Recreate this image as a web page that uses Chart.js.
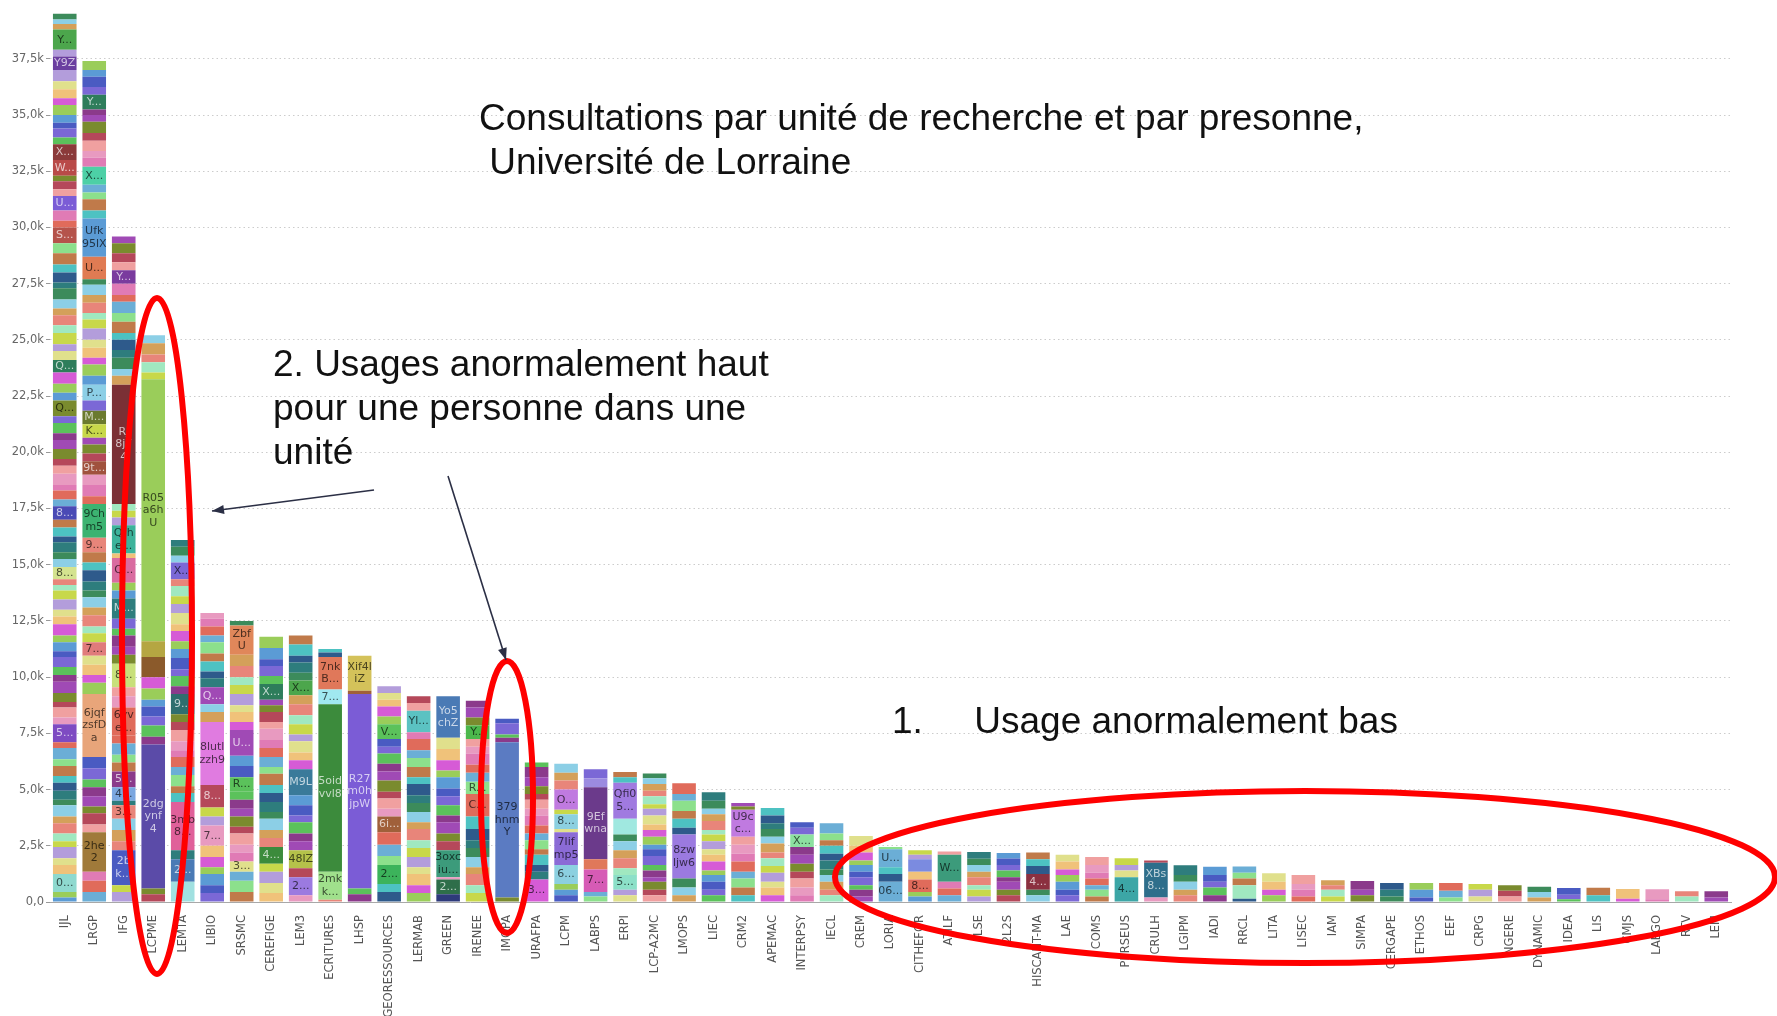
<!DOCTYPE html>
<html><head><meta charset="utf-8">
<script src="https://cdn.jsdelivr.net/npm/chart.js@4.4.0/dist/chart.umd.min.js"></script>
<style>
html,body{margin:0;padding:0;background:#fff;width:1777px;height:1016px;overflow:hidden;}
#wrap{position:relative;width:1777px;height:1016px;}
canvas{position:absolute;left:0;top:0;}
.note{position:absolute;font-family:"Liberation Sans",Arial,sans-serif;font-size:37px;line-height:44px;color:#111;white-space:pre;}
</style></head><body>
<div id="wrap"><canvas id="c" width="1777" height="1016"></canvas>
<div class="note" style="left:479px;top:96px">Consultations par unité de recherche et par presonne,
 Université de Lorraine</div>
<div class="note" style="left:273px;top:342px">2. Usages anormalement haut
pour une personne dans une
unité</div>
<div class="note" style="left:892px;top:699px">1.     Usage anormalement bas</div>
</div>
<script>
// ---- DATA ----
const units = ["IJL","LRGP","IFG","LCPME","LEMTA","LIBIO","SRSMC","CEREFIGE","LEM3","ECRITURES","LHSP","GEORESSOURCES","LERMAB","GREEN","IRENEE","IMOPA","URAFPA","LCPM","LABPS","ERPI","LCP-A2MC","LMOPS","LIEC","CRM2","APEMAC","INTERPSY","IECL","CREM","LORIA","CITHEFOR","ATILF","LSE","2L2S","HISCANT-MA","LAE","COMS","PERSEUS","CRULH","LGIPM","IADI","RRCL","LITA","LISEC","IAM","SIMPA","CERGAPE","ETHOS","EEF","CRPG","NGERE","DYNAMIC","IDEA","LIS","CMJS","LAEGO","RTV","LEM"];

// consultations per person (thousands), bottom to top; [value, "label"] = labelled person
const segValues = [
 [0.2,0.25,[0.8,"0..."],0.4,0.3,0.5,0.25,0.35,0.45,0.3,0.5,0.25,0.4,0.35,0.3,0.45,0.3,0.5,0.25,[0.8,"5..."],0.3,0.45,0.25,0.4,0.5,0.3,0.35,0.45,0.25,0.4,0.3,0.5,0.35,0.3,0.45,0.4,0.25,0.25,[0.55,"8..."],0.35,0.3,0.45,0.25,0.4,0.35,[0.6,"8..."],0.3,0.4,0.25,0.5,0.35,0.3,0.45,0.4,0.3,0.45,0.3,[0.7,"Q..."],0.35,0.4,0.5,[0.55,"Q..."],0.4,0.3,0.5,0.35,0.45,0.3,0.4,0.5,0.25,0.45,0.35,0.5,0.45,[0.7,"S..."],0.3,0.45,[0.65,"U..."],0.3,0.35,0.25,[0.7,"W..."],[0.7,"X..."],0.3,0.4,0.25,0.35,0.45,0.3,0.4,0.35,0.5,[0.6,"Y9Z"],[0.3,""],[0.9,"Y..."],0.25,0.2,0.25],
 [0.45,0.5,0.4,[1.75,"2he\n2"],0.35,0.5,0.3,0.45,0.4,0.35,0.5,0.5,[2.8,"6jqf\nzsfD\na"],0.5,0.35,0.45,0.4,[0.6,"7..."],0.4,0.3,0.5,0.35,0.45,0.3,0.4,0.5,0.35,0.45,[0.65,"9..."],[1.5,"9Ch\nm5"],0.35,0.5,0.45,[0.6,"9t..."],0.35,0.4,0.3,[0.6,"K..."],[0.6,"M..."],0.45,[0.7,"P..."],0.4,0.5,0.3,0.45,0.35,0.5,0.4,0.3,0.45,0.35,0.45,0.25,[1.0,"U..."],[1.7,"Ufk\n95lX"],0.35,0.5,0.3,0.35,[0.8,"X..."],0.4,0.3,0.45,0.35,0.5,0.3,0.25,[0.65,"Y..."],0.35,0.45,0.3,0.4],
 [0.45,0.3,[1.55,"2b\nk..."],0.4,0.5,0.5,[0.6,"3..."],0.2,[0.6,"4..."],[0.7,"5..."],0.4,0.35,0.5,0.35,[1.25,"6vv\ne..."],0.5,0.4,[1.05,"8..."],0.4,0.35,0.5,0.3,0.45,[0.9,"M..."],0.35,0.35,[1.1,"Q..."],0.2,[1.25,"Q(h\ne..."],0.35,0.3,0.3,[5.3,"Rj\n8j7\n4"],0.4,0.3,0.5,0.35,0.45,0.3,0.5,0.4,0.5,0.3,0.5,[0.6,"Y..."],0.35,0.4,0.45,0.3],
 [0.35,0.25,[6.4,"2dg\nynf\n4"],0.35,0.5,0.4,0.45,0.3,0.5,0.5,[0.9,""],[0.7,""],[11.65,"R05\na6h\nU"],0.3,0.45,0.35,0.5,0.35],
 [[0.9,""],[1.0,"2..."],0.4,[2.15,"3mb\n8..."],0.4,0.3,0.5,0.35,0.45,0.3,0.4,0.5,0.35,0.35,[0.9,"9..."],0.35,0.45,0.3,0.5,0.4,0.35,0.45,0.3,0.5,0.4,0.35,0.45,0.3,[0.75,"X..."],0.3,0.4,0.3],
 [0.4,0.35,0.5,0.3,0.45,0.5,[0.9,"7..."],0.4,0.4,[1.0,"8..."],[2.8,"8lutl\nzzh9"],0.45,0.35,[0.75,"Q..."],0.4,0.3,0.45,0.35,0.5,0.3,0.4,0.35,0.25],
 [0.45,0.5,0.4,[0.45,"3..."],0.4,0.35,0.5,0.3,0.45,0.35,0.4,0.35,[0.65,"R..."],0.5,0.45,[1.15,"U..."],0.35,0.45,0.3,0.5,0.4,0.35,0.5,0.5,[1.3,"Zbf\nU"],0.2],
 [0.4,0.45,0.5,0.35,[0.75,"4..."],0.4,0.35,0.5,0.3,0.45,0.4,0.35,0.5,0.3,0.45,0.4,0.35,0.5,0.3,0.45,0.3,0.25,[0.7,"X..."],0.35,0.45,0.3,0.5,0.5],
 [0.3,[0.8,"2..."],0.4,[0.8,"48lZ"],0.4,0.35,0.5,0.3,0.45,0.45,[1.15,"M9L"],0.4,0.35,0.5,0.3,0.45,0.4,0.5,0.4,[0.65,"X..."],0.35,0.45,0.3,0.5,0.4],
 [0.1,[1.25,"2mk\nk..."],[7.45,"5oid\nvvl8"],[0.65,"7..."],[1.45,"7nk\nB..."],0.2,0.15],
 [0.35,0.25,[8.65,"R27\nm0h\njpW"],[0.15,""],[1.55,"Xif4l\niZ"]],
 [0.45,0.35,[0.85,"2..."],0.4,0.5,0.55,[0.7,"6i..."],0.35,0.45,0.3,0.5,0.4,0.35,0.45,0.3,0.35,[0.65,"V..."],0.35,0.45,0.3,0.3,0.3],
 [0.4,0.35,0.5,0.3,0.45,0.4,0.35,0.5,0.3,0.45,0.4,0.35,0.5,0.3,0.45,0.4,0.35,0.5,0.3,[0.95,"Yl..."],0.35,0.3],
 [[0.35,""],[0.65,"2..."],0.1,[1.2,"3oxc\niu..."],0.4,0.35,0.5,0.3,0.45,0.4,0.35,0.5,0.3,0.45,0.5,0.5,[1.85,"Yo5\nchZ"]],
 [0.4,0.35,0.5,0.3,0.45,0.4,0.35,0.5,0.55,[1.0,"C..."],[0.55,"R..."],0.4,0.35,0.5,0.3,0.35,[0.6,"Y..."],0.35,0.45,0.3],
 [0.2,[6.9,"379\nhnm\nY"],0.2,0.15,0.5,0.2],
 [[1.0,"3..."],0.35,0.3,0.45,0.25,0.4,0.3,0.35,0.45,0.3,0.4,0.25,0.35,0.4,0.45,0.2],
 [0.3,0.25,0.25,[0.85,"6..."],[1.45,"7lif\nmp5"],0.15,[0.65,"8..."],0.2,[0.9,"O..."],0.4,0.35,0.4],
 [0.25,0.2,[1.0,"7..."],[0.45,""],[3.2,"9Ef\nwna"],[0.4,""],[0.4,""]],
 [0.3,0.25,[0.65,"5..."],0.3,0.45,0.35,0.4,0.3,[0.7,""],[1.6,"Qfi0\n5..."],0.25,0.23],
 [0.3,0.25,0.35,0.2,0.3,0.25,0.4,0.3,0.2,0.35,0.3,0.25,0.4,0.3,0.2,0.35,0.25,0.3,0.25,0.22],
 [0.3,0.35,0.4,[1.95,"8zw\nljw6"],0.3,0.4,0.35,0.45,0.3,0.48],
 [0.3,0.25,0.35,0.3,0.2,0.4,0.3,0.25,0.35,0.3,0.2,0.4,0.3,0.25,0.35,0.38],
 [0.3,0.35,0.4,0.3,0.45,0.35,0.4,0.35,[1.2,"U9c\nc..."],0.15,0.15],
 [0.3,0.35,0.25,0.4,0.3,0.35,0.25,0.4,0.3,0.35,0.25,0.35,0.33],
 [0.3,0.35,0.4,0.3,0.35,0.4,0.35,[0.55,"X..."],0.3,0.25],
 [0.3,0.25,0.35,0.3,0.25,0.4,0.3,0.35,0.25,0.3,0.45],
 [0.25,0.3,0.2,0.35,0.25,0.3,0.2,0.35,0.3,0.43],
 [[0.9,"06..."],0.35,0.3,[0.8,"U..."],0.1],
 [0.25,0.2,[0.55,"8..."],0.35,[0.55,""],0.2,0.2],
 [0.3,0.3,0.3,[1.2,"W..."],0.15],
 [0.25,0.3,0.2,0.35,0.25,0.3,0.27,0.3],
 [0.3,0.25,0.35,0.2,0.3,0.25,0.28,0.25],
 [0.3,0.25,[0.7,"4..."],0.35,0.3,0.3],
 [0.3,0.25,0.35,0.3,0.25,0.35,0.3],
 [0.25,0.3,0.2,0.3,0.25,0.35,0.35],
 [[1.1,"4..."],0.3,0.25,0.3],
 [0.2,[1.55,"XBs\n8..."],0.1],
 [0.3,0.25,0.35,0.3,0.43],
 [0.3,0.35,0.25,0.3,0.37],
 [0.15,[0.6,""],0.3,0.25,0.28],
 [0.3,0.25,0.35,0.38],
 [0.25,0.3,0.25,0.4],
 [0.25,0.3,0.2,0.22],
 [0.3,0.25,0.38],
 [0.25,0.3,0.3],
 [0.2,0.35,0.3],
 [0.2,0.3,0.34],
 [0.25,0.3,0.25],
 [0.25,0.25,0.25],
 [0.2,0.25,0.23],
 [0.12,0.2,0.3],
 [0.3,0.33],
 [0.15,0.43],
 [0.12,0.45],
 [0.25,0.23],
 [0.2,0.28]
];

const yTicks = [0,2.5,5,7.5,10,12.5,15,17.5,20,22.5,25,27.5,30,32.5,35,37.5];

// ---- STYLES ----
const segColors = {
 "IJL":["#8ED9CF","#7E4BC2","#D4E38F","#4A4AB5","#7A8B2E","#2E7D5B","#B5534B","#7B5CD6","#B94A48","#8B3A3A","#6B3FA0","#B39DDB","#4CA64C"],
 "LRGP":["#A07A3A","#E8A57A","#E07B7B","#E8857A","#3CB371","#A0523D","#C8D84A","#6B7A2E","#8CCFE6","#E07B53","#5B9BD5","#4DD0A6","#2E7D5B"],
 "IFG":["#4A5BC2","#E8857A","#7BA7E0","#8B3A8B","#E06B5B","#C8E07A","#2E7D7D","#D96BA0","#3CB39B","#7B3035","#7A3B9E"],
 "LCPME":["#5B4BA8","#8B5A2B","#B5A642","#9ACD5A"],
 "LEMTA":["#A0E0E0","#4A7AB5","#E0609A","#2E6E6E","#7B68D6"],
 "LIBIO":["#E89AC0","#B5485A","#E07BE0","#A04AB5"],
 "SRSMC":["#E0E08C","#5BC25B","#A04AB5","#E0875A"],
 "CEREFIGE":["#3C8B3C","#2E7D5B"],
 "LEM3":["#9B7AE0","#B5C24A","#3A7A9A","#4CA64C"],
 "ECRITURES":["#A0E08C","#3C8B3C","#A0E8F0","#E0785A"],
 "LHSP":["#7B5CD6","#A0603A","#D4C25A"],
 "GEORESSOURCES":["#3CB35B","#A0603A","#5BC25B"],
 "LERMAB":["#5BC2C2"],
 "GREEN":["#2E3A7B","#2E6E4A","#3C9B7B","#4A7AB5"],
 "IRENEE":["#E06B5B","#8CE08C","#4CB84C"],
 "IMOPA":["#5B7BC2"],
 "URAFPA":["#D65BD6"],
 "LCPM":["#8CD0E0","#8B6BD6","#8CD0E0","#C07AE0"],
 "LABPS":["#D65BB5","#E0785A","#6B3A8B","#9B8BE0","#7B68D6"],
 "ERPI":["#8CE0C8","#A0E8E0","#A07AE0"],
 "LMOPS":["#9B7AE0"],
 "CRM2":["#C07AE0"],
 "INTERPSY":["#8CE0A0"],
 "LORIA":["#6BAED6","#6BAED6"],
 "CITHEFOR":["#E06B5B","#7B8BE0"],
 "ATILF":["#3C9B7B"],
 "HISCANT-MA":["#8B3040"],
 "PERSEUS":["#3CA6A6"],
 "CRULH":["#2E6E8B"],
 "RRCL":["#A0E8C0"]
};
const palette = ["#5B9BD5","#E8857A","#8CE08C","#A04AB5","#F0C27A","#3C8B5B","#E07BB5","#7B68D6","#C8D84A","#4DC2C2","#B5485A","#9ACD5A","#D4A05A","#6BAED6","#8B3A8B","#E0E08C","#2E7D7D","#E89AC0","#4A5BC2","#A0E8C0","#C07A4A","#7A8B2E","#D65BD6","#8CCFE6","#E06B5B","#5BC25B","#B39DDB","#2E5A8B","#F0A0A0"];

// color matrix
const colorMat = segValues.map((segs,i)=>{
  let k=0; const u=units[i];
  return segs.map((s,j)=> Array.isArray(s) ? segColors[u][k++] : palette[(i*13 + j*11) % palette.length]);
});
const maxSeg = Math.max(...segValues.map(a=>a.length));
const datasets = [];
for(let j=0;j<maxSeg;j++){
  datasets.push({
    data: segValues.map(a=> j<a.length ? (Array.isArray(a[j]) ? a[j][0] : a[j]) : null),
    backgroundColor: (c)=> { const r=colorMat[c.dataIndex]; return (r && r[j]) || '#ccc'; },
    borderWidth: 0,
    categoryPercentage: 0.8,
    barPercentage: 1.0
  });
}

function hexRgb(h){ return [parseInt(h.slice(1,3),16),parseInt(h.slice(3,5),16),parseInt(h.slice(5,7),16)]; }
function textCol(h){
  const [r,g,b]=hexRgb(h); const L=0.299*r+0.587*g+0.114*b;
  if(L<120){ return `rgb(${Math.round(r+(255-r)*0.7)},${Math.round(g+(255-g)*0.7)},${Math.round(b+(255-b)*0.7)})`; }
  return `rgb(${Math.round(r*0.35)},${Math.round(g*0.35)},${Math.round(b*0.35)})`;
}

const labelPlugin = { id:'seglabels', afterDatasetsDraw(chart){
  const c=chart.ctx; c.save();
  c.font='11px "DejaVu Sans", sans-serif'; c.textAlign='center'; c.textBaseline='middle';
  segValues.forEach((segs,i)=>{
    segs.forEach((s,j)=>{
      if(Array.isArray(s) && s[1]){
        const el=chart.getDatasetMeta(j).data[i]; if(!el) return;
        const cy=(el.y+el.base)/2; const lines=s[1].split('\n');
        c.fillStyle=textCol(colorMat[i][j]);
        lines.forEach((ln,m)=> c.fillText(ln, el.x, cy+(m-(lines.length-1)/2)*12.5));
      }
    });
  });
  c.restore();
}};

function arrow(c,x1,y1,x2,y2){
  c.beginPath(); c.moveTo(x1,y1); c.lineTo(x2,y2); c.stroke();
  const a=Math.atan2(y2-y1,x2-x1), L=12, W=4.5;
  c.beginPath(); c.moveTo(x2,y2);
  c.lineTo(x2-L*Math.cos(a)+W*Math.sin(a), y2-L*Math.sin(a)-W*Math.cos(a));
  c.lineTo(x2-L*Math.cos(a)-W*Math.sin(a), y2-L*Math.sin(a)+W*Math.cos(a));
  c.closePath(); c.fill();
}
const annotPlugin = { id:'annot', afterDraw(chart){
  const c=chart.ctx; c.save();
  c.strokeStyle='#ff0000'; c.lineWidth=6;
  c.beginPath(); c.ellipse(157,636,35,338,0,0,Math.PI*2); c.stroke();
  c.beginPath(); c.ellipse(507,797,26,136,0,0,Math.PI*2); c.stroke();
  c.beginPath(); c.ellipse(1305,877,470,86,0,0,Math.PI*2); c.stroke();
  c.strokeStyle='#2b2f45'; c.fillStyle='#2b2f45'; c.lineWidth=1.6;
  arrow(c,374,490,212,511);
  arrow(c,448,476,506,660);
  c.restore();
}};

Chart.defaults.font.family='"DejaVu Sans", sans-serif';
new Chart(document.getElementById('c'), {
  type:'bar',
  data:{ labels: units, datasets },
  options:{
    responsive:false, animation:false, events:[],
    layout:{ padding:{ left:0, right:46, top:0, bottom:0 } },
    plugins:{ legend:{display:false}, tooltip:{enabled:false} },
    scales:{
      x:{ stacked:true,
          grid:{ display:false, drawTicks:false },
          border:{ display:true, color:'#a8a8a8', width:1 },
          ticks:{ autoSkip:false, maxRotation:90, minRotation:90, padding:13, color:'#555', font:{size:11.5} },
          afterFit(s){ s.height=114; } },
      y:{ stacked:true, min:0, max:40,
          afterBuildTicks(s){ s.ticks = yTicks.map(v=>({value:v})); },
          ticks:{ color:'#666', font:{size:11.5, lineHeight:0.1}, padding:2,
                  callback:(v)=> v===0 ? '0,0' : v.toFixed(1).replace('.',',')+'k' },
          grid:{ color:'#cccccc', lineWidth:1, drawTicks:true, tickLength:4, tickColor:'#999' },
          border:{ display:false, dash:[1.5,3] },
          afterFit(s){ s.width=50; } }
    }
  },
  plugins:[labelPlugin, annotPlugin]
});
</script>
</body></html>
